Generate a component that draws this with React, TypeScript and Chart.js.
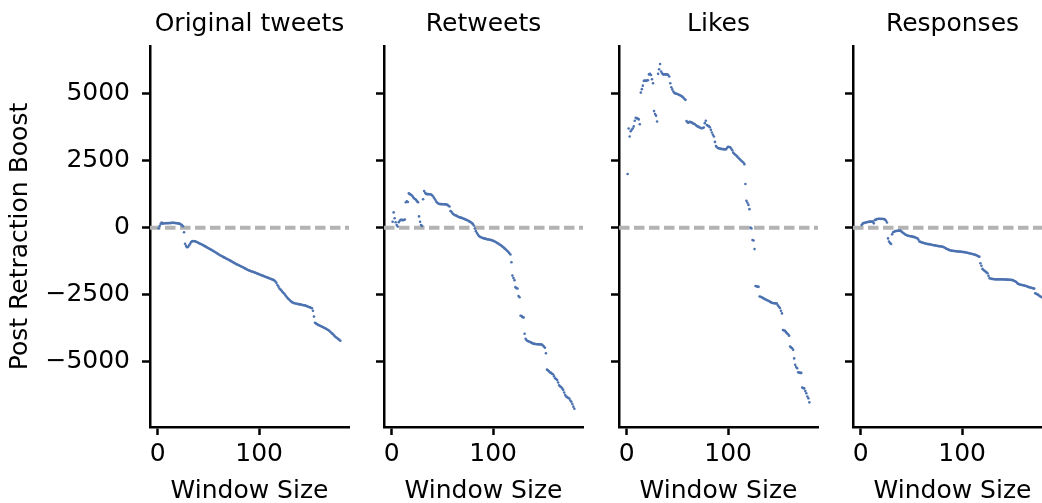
import React, { useEffect, useRef } from "react";
import { Chart, registerables } from "chart.js";

Chart.register(...registerables);

// ---------- data ----------
const panelTitles = ["Original tweets", "Retweets", "Likes", "Responses"];
const windowSizes = Array.from({ length: 180 }, (_, i) => i + 1);

const originalTweets = [
  -20, 60, 140, 190, 150, 160, 165, 165, 170, 165, 170, 175, 170, 180, 185, 180, 175, 170, 165, 160,
  150, 140, 120, 95, 55, -170, -600, -680, -730, -720, -660, -600, -540, -510, -500, -505, -510, -525, -545, -565,
  -585, -600, -620, -640, -660, -680, -700, -725, -745, -770, -790, -810, -830, -855, -875, -900, -920, -945, -970, -995,
  -1020, -1040, -1060, -1080, -1100, -1120, -1140, -1160, -1180, -1200, -1220, -1240, -1265, -1285, -1305, -1330, -1350, -1370, -1385, -1405,
  -1420, -1440, -1460, -1480, -1500, -1520, -1540, -1560, -1580, -1595, -1610, -1625, -1640, -1650, -1665, -1680, -1695, -1710, -1725, -1740,
  -1755, -1770, -1785, -1800, -1815, -1830, -1845, -1860, -1875, -1890, -1905, -1920, -1935, -1950, -1975, -2010, -2060, -2140, -2200, -2270,
  -2310, -2350, -2400, -2440, -2480, -2530, -2580, -2630, -2665, -2700, -2740, -2770, -2790, -2810, -2820, -2830, -2840, -2850, -2855, -2865,
  -2870, -2880, -2890, -2895, -2900, -2915, -2930, -2945, -2960, -2975, -2990, -3010, -3100, -3320, -3550, -3580, -3600, -3630, -3645, -3660,
  -3680, -3700, -3715, -3735, -3755, -3775, -3800, -3820, -3850, -3885, -3920, -3955, -3990, -4030, -4070, -4100, -4130, -4160, -4190, -4220,
];

const retweets = [
  220, 570, 350, 200, 100, 40, 200, 260, 290, 290, 280, 285, 300, 950, 980, 960, 1280, 1250, 1230, 1200,
  1150, 1100, 1070, 1040, 990, 950, 420, 220, 100, 60, 1060, 1370, 1300, 1260, 1250, 1250, 1245, 1245, 1240, 1200,
  1160, 1100, 1040, 970, 930, 900, 885, 880, 880, 875, 875, 870, 870, 865, 850, 820, 790, 620, 590, 540,
  500, 475, 460, 440, 420, 400, 385, 375, 365, 350, 335, 320, 300, 285, 265, 245, 225, 200, 170, 140,
  80, -30, -130, -200, -260, -310, -340, -360, -375, -390, -400, -410, -420, -430, -440, -445, -455, -460, -475, -490,
  -505, -525, -545, -570, -595, -620, -645, -670, -700, -730, -765, -800, -835, -870, -910, -955, -1000, -1290, -1790, -1880,
  -1960, -2220, -2260, -2270, -2550, -2600, -3290, -3300, -3340, -3350, -3960, -4150, -4200, -4230, -4250, -4260, -4280, -4300, -4320, -4330,
  -4340, -4345, -4350, -4350, -4355, -4355, -4360, -4365, -4400, -4440, -4480, -4690, -5300, -5320, -5360, -5400, -5420, -5450, -5470, -5550,
  -5620, -5650, -5690, -5780, -5880, -5930, -5950, -6000, -6060, -6150, -6250, -6300, -6330, -6360, -6380, -6450, -6500, -6580, -6680, -6760,
];

const likes = [
  2000, 3700, 3400, 3600, 3650, 3700, 3780, 3990, 4100, 4080, 4070, 4040, 3860, 5040, 5170, 5300, 5480, 5490, 5480, 5490,
  5500, 5720, 5740, 5700, 5540, 5390, 4350, 4240, 4180, 3960, 5740, 5910, 6110, 5830, 5760, 5720, 5720, 5720, 5720, 5720,
  5700, 5640, 5390, 5240, 5160, 5080, 5030, 5010, 5000, 4990, 4970, 4950, 4930, 4910, 4880, 4850, 4800, 4770, 3980, 3930,
  3920, 3950, 3940, 3930, 3900, 3880, 3870, 3830, 3800, 3780, 3760, 3740, 3720, 3710, 3720, 3740, 3900, 3990, 3830, 3800,
  3790, 3750, 3650, 3550, 3470, 3400, 3200, 3050, 3000, 2970, 2960, 2950, 2940, 2935, 2930, 2925, 2920, 2930, 2980, 3020,
  3010, 3000, 2950, 2890, 2800, 2760, 2720, 2690, 2650, 2610, 2570, 2530, 2500, 2460, 2430, 2370, 1630, 1000, 930, 850,
  690, 0, -30, -460, -480, -800, -2180, -2190, -2200, -2210, -2570, -2580, -2600, -2620, -2640, -2660, -2680, -2700, -2720, -2740,
  -2760, -2780, -2800, -2810, -2820, -2825, -2825, -2830, -2900, -2950, -3000, -3100, -3200, -3820, -3840, -3850, -3900, -3940, -3980, -4030,
  -4440, -4470, -4500, -4560, -4880, -5120, -5200, -5250, -5400, -5410, -5420, -5420, -5970, -5990, -6000, -6100, -6180, -6300, -6370, -6520,
];

const responses = [
  100, 150, 170, 180, 190, 200, 210, 215, 225, 225, 230, 225, 160, 280, 300, 320, 325, 330, 330, 325,
  330, 325, 320, 300, 260, 190, -400, -520, -570, -610, -250, -170, -150, -130, -125, -120, -115, -112, -112, -130,
  -170, -200, -230, -260, -275, -290, -300, -310, -320, -325, -335, -345, -355, -370, -385, -400, -450, -520, -530, -545,
  -560, -570, -580, -590, -600, -610, -615, -620, -630, -640, -645, -655, -660, -670, -675, -685, -690, -695, -700, -705,
  -710, -730, -750, -775, -795, -810, -830, -845, -855, -860, -865, -870, -875, -880, -885, -890, -890, -895, -900, -905,
  -910, -915, -920, -925, -935, -945, -955, -965, -975, -985, -995, -1005, -1015, -1030, -1050, -1070, -1085, -1330, -1420, -1540,
  -1580, -1610, -1640, -1670, -1700, -1800, -1890, -1900, -1910, -1915, -1920, -1925, -1930, -1930, -1930, -1930, -1930, -1930, -1930, -1930,
  -1935, -1935, -1935, -1940, -1940, -1945, -1945, -1950, -1955, -1960, -1980, -2000, -2020, -2060, -2090, -2110, -2120, -2130, -2140, -2150,
  -2160, -2170, -2180, -2195, -2210, -2225, -2235, -2245, -2255, -2265, -2275, -2450, -2470, -2490, -2510, -2540, -2570, -2590, -2610, -2630,
];

const seriesValues = [originalTweets, retweets, likes, responses];
const xTickValues = [0, 100];
const yTickValues = [-5000, -2500, 0, 2500, 5000];
const baselineValue = 0;

const X_MIN = -7.5;
const X_MAX = 188.5;
const Y_MIN = -7440;
const Y_MAX = 6780;

// ---------- layout / style ----------
const FONT = "'DejaVu Sans', sans-serif";
const INK = "#000000";
const POINT_COLOR = "#4c72b0";
const DASH_COLOR = "#b3b3b3";
const PLOT_LEFTS = [150, 384, 619, 853];
const PLOT_WIDTH = 199;
const PAD_RIGHT = 10;
const H = 503;

function Panel({ index }: { index: number }) {
  const ref = useRef<HTMLCanvasElement | null>(null);
  const showY = index === 0;
  const yw = showY ? 150 : 20;
  const canvasLeft = PLOT_LEFTS[index] - yw;
  const canvasWidth = yw + PLOT_WIDTH + PAD_RIGHT;

  useEffect(() => {
    if (!ref.current) return;
    const values = seriesValues[index];
    const chart = new Chart(ref.current, {
      type: "scatter",
      data: {
        datasets: [
          {
            data: windowSizes.map((w, i) => ({ x: w, y: values[i] })),
            pointRadius: 1.3,
            pointBackgroundColor: POINT_COLOR,
            pointBorderWidth: 0,
            pointHoverRadius: 1.3,
            order: 0,
          },
          {
            data: [
              { x: X_MIN, y: baselineValue },
              { x: X_MAX, y: baselineValue },
            ],
            showLine: true,
            borderColor: DASH_COLOR,
            borderWidth: 4,
            borderDash: [10.5, 4.5],
            pointRadius: 0,
            pointHoverRadius: 0,
            order: 1,
          },
        ],
      },
      options: {
        animation: false,
        responsive: false,
        devicePixelRatio: 1,
        events: [],
        layout: { padding: { left: 0, right: PAD_RIGHT, top: 0, bottom: 0 } },
        plugins: {
          legend: { display: false },
          tooltip: { enabled: false },
          title: {
            display: true,
            text: panelTitles[index],
            fullSize: false,
            color: INK,
            font: { family: FONT, size: 25, weight: "normal", lineHeight: 1.2 },
            padding: { top: 9, bottom: 7 },
          },
        },
        scales: {
          x: {
            type: "linear",
            min: X_MIN,
            max: X_MAX,
            afterFit: (s: any) => {
              s.height = 76;
            },
            afterBuildTicks: (s: any) => {
              s.ticks = xTickValues.map((v) => ({ value: v }));
            },
            ticks: {
              color: INK,
              font: { family: FONT, size: 25, lineHeight: 1.2 },
              padding: 4,
              maxRotation: 0,
              autoSkip: false,
              includeBounds: false,
            },
            grid: {
              display: true,
              drawOnChartArea: false,
              drawTicks: true,
              tickLength: 8,
              tickWidth: 2.5,
              tickColor: INK,
            },
            border: { display: true, color: INK, width: 2.5 },
            title: {
              display: true,
              text: "Window Size",
              color: INK,
              font: { family: FONT, size: 25, lineHeight: 1 },
              padding: { top: 0, bottom: -1 },
            },
          },
          y: {
            type: "linear",
            min: Y_MIN,
            max: Y_MAX,
            afterFit: (s: any) => {
              s.width = yw;
            },
            afterBuildTicks: (s: any) => {
              s.ticks = yTickValues.map((v) => ({ value: v }));
            },
            ticks: {
              display: showY,
              color: INK,
              font: { family: FONT, size: 25, lineHeight: 1.2 },
              padding: 12,
              autoSkip: false,
              includeBounds: false,
              callback: (v: any) => String(v).replace("-", "\u2212"),
            },
            grid: {
              display: true,
              drawOnChartArea: false,
              drawTicks: true,
              tickLength: 8,
              tickWidth: 2.5,
              tickColor: INK,
            },
            border: { display: true, color: INK, width: 2.5 },
            title: {
              display: showY,
              text: "Post Retraction Boost",
              color: INK,
              font: { family: FONT, size: 25, lineHeight: 1 },
              padding: { top: 8, bottom: 0 },
            },
          },
        },
      },
    } as any);
    return () => chart.destroy();
  }, [index]);

  return (
    <canvas
      ref={ref}
      width={canvasWidth}
      height={H}
      style={{
        position: "absolute",
        left: canvasLeft,
        top: 0,
        width: canvasWidth,
        height: H,
        display: "block",
      }}
    />
  );
}

export default function App() {
  return (
    <div
      style={{
        position: "absolute",
        left: 0,
        top: 0,
        width: 1042,
        height: H,
        overflow: "hidden",
        background: "#ffffff",
      }}
    >
      {panelTitles.map((_, i) => (
        <Panel key={i} index={i} />
      ))}
    </div>
  );
}
